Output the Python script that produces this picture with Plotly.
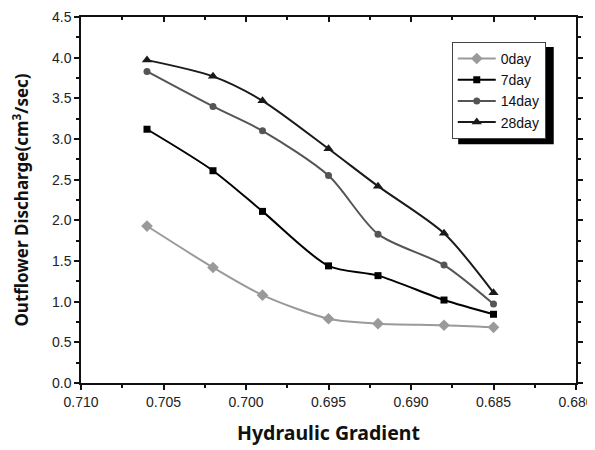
import plotly.graph_objects as go

gradient = [0.706, 0.702, 0.699, 0.695, 0.692, 0.688, 0.685]
day0 = [1.93, 1.42, 1.08, 0.79, 0.73, 0.71, 0.685]
day7 = [3.12, 2.61, 2.11, 1.44, 1.32, 1.02, 0.845]
day14 = [3.83, 3.40, 3.10, 2.55, 1.83, 1.45, 0.97]
day28 = [3.97, 3.77, 3.47, 2.88, 2.42, 1.84, 1.11]

series = [
    ("0day", day0, "#9a9a9a", "diamond", 9),
    ("7day", day7, "#000000", "square", 7),
    ("14day", day14, "#555555", "circle", 7),
    ("28day", day28, "#1a1a1a", "triangle-up", 9),
]

fig = go.Figure()
for name, ys, color, sym, sz in series:
    fig.add_trace(go.Scatter(
        x=gradient, y=ys, name=name, mode="lines+markers",
        line=dict(color=color, width=2, shape="spline", smoothing=0.8),
        marker=dict(color=color, symbol=sym, size=sz),
    ))

# invisible trace for the top axis with inward ticks
fig.add_trace(go.Scatter(x=[0.71], y=[0], xaxis="x2", showlegend=False,
                         mode="markers", marker=dict(opacity=0), hoverinfo="skip"))

tickfont = dict(family="Liberation Sans, Arial, sans-serif", size=14, color="#222")
# the page body has an 8px default margin; offsets compensate for it
fig.update_layout(
    width=595, height=442,
    margin=dict(l=73, r=27, t=9, b=67),
    paper_bgcolor="white", plot_bgcolor="white",
    showlegend=True,
    legend=dict(x=0.749, y=0.932, xanchor="left", yanchor="top",
                bgcolor="white", bordercolor="#444", borderwidth=1,
                font=dict(family="Liberation Sans, Arial, sans-serif", size=14, color="#111"),
                tracegroupgap=0, itemwidth=38),
    xaxis=dict(range=[0.710, 0.680], dtick=0.005, tickformat=".3f", automargin=False,
               showgrid=False, zeroline=False, ticklabeloverflow="allow",
               showline=True, linecolor="#111", linewidth=1.5,
               ticks="outside", ticklen=5, tickwidth=1.5, tickcolor="#111",
               minor=dict(dtick=0.0025, ticks="outside", ticklen=3, tickcolor="#111"),
               tickfont=tickfont,
               title=dict(text="Hydraulic Gradient", standoff=18,
                          font=dict(family="Noto Sans, sans-serif", size=19.5, color="#111", weight="bold"))),
    xaxis2=dict(range=[0.710, 0.680], overlaying="x", side="top", dtick=0.005, automargin=False,
                showgrid=False, zeroline=False, showticklabels=False,
                showline=True, linecolor="#111", linewidth=1.5,
                ticks="inside", ticklen=5, tickwidth=1.5, tickcolor="#111",
                minor=dict(dtick=0.0025, ticks="inside", ticklen=3, tickcolor="#111")),
    yaxis=dict(range=[0, 4.5], dtick=0.5, tickformat=".1f", automargin=False,
               showgrid=False, zeroline=False,
               showline=True, linecolor="#111", linewidth=1.5, mirror="ticks",
               ticks="outside", ticklen=5, tickwidth=1.5, tickcolor="#111",
               minor=dict(dtick=0.25, ticks="outside", ticklen=3, tickcolor="#111"),
               tickfont=tickfont,
               title=dict(text="Outflower Discharge(cm<sup>3</sup>/sec)", standoff=20,
                          font=dict(family="Noto Sans, sans-serif", size=17, color="#111", weight="bold"))),
    shapes=[dict(type="rect", xref="paper", yref="paper",
                 x0=0.762, x1=0.955, y0=0.652, y1=0.918,
                 fillcolor="black", line=dict(width=0))],
)

fig.write_html("out.html")
